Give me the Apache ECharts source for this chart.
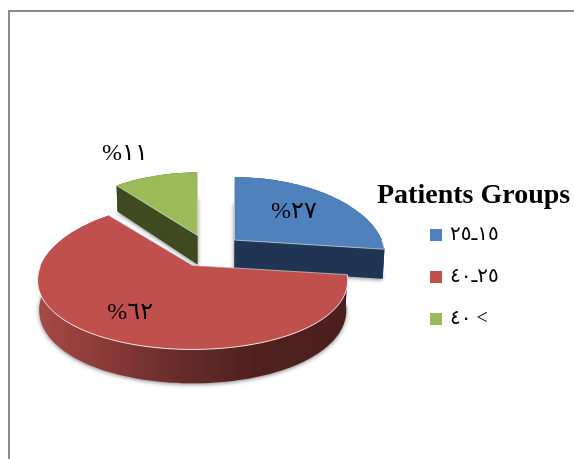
<!DOCTYPE html>
<html lang="en">
<head>
    <meta charset="UTF-8">
    <title>Patients Groups</title>
    <style>
        html, body { margin: 0; padding: 0; background: #fff; }
        #chart { width: 574px; height: 459px; }
    </style>
</head>
<body>
    <div id="chart"></div>
    <script src="https://cdn.jsdelivr.net/npm/echarts@6/dist/echarts.min.js"></script>
    <script>
    var categories = ['١٥ـ٢٥', '٢٥ـ٤٠', '٤٠ <'];
    var values = [27, 62, 11];
    var percentLabels = ['%٢٧', '%٦٢', '%١١'];

    // colours per slice
    var topColors = ['#4F81BD', '#C0504D', '#9BBB59'];
    var wallColors = ['#1F3553', '#4A1F1D', '#3F4A20'];
    // how far along the bisector the label sits (1 = rim), then a small nudge
    var labelRadius = [0.6, 0.7, 1.55];
    var labelNudge = [[-2, -1], [-4, -1], [-13, 5]];

    // fake 3d pie: circle on a tilted plane, seen with a bit of perspective
    var cx = 209, cy = 251;
    var rx = 149.3, ry = 72;
    var perspX = 0.2, perspY = 1 / 7;
    var depth = 29;
    var explodeX = 34, explodeY = 16.5;
    var explodeShrink = 0.02; // slices pushed back look a little narrower

    var total = values.reduce(function (a, b) { return a + b; }, 0);

    function plane(deg, r) {
        var a = deg * Math.PI / 180;
        var X = Math.sin(a) * r, Y = -Math.cos(a) * r;
        var f = 1 / (1 - perspY * Y);
        return { x: rx * X / (1 - perspX * Y), y: ry * Y * f, f: f };
    }

    function sliceRange(idx) {
        var start = 0;
        for (var i = 0; i < idx; i++) start += values[i] / total * 360;
        return [start, start + values[idx] / total * 360];
    }

    function renderSlice(params, api) {
        var idx = api.value(0);
        var range = sliceRange(idx);
        var mid = (range[0] + range[1]) / 2 * Math.PI / 180;
        var ax = cx + explodeX * Math.sin(mid);
        var ay = cy - explodeY * Math.cos(mid);
        var sx = 1 - explodeShrink * Math.cos(mid);

        function top(deg, r) {
            var p = plane(deg, r);
            return [ax + p.x * sx, ay + p.y];
        }
        function bottom(deg, r) {
            var p = plane(deg, r);
            return [cx + (ax + p.x * sx - cx) * 0.99, ay + p.y + depth * p.f];
        }

        var arcTop = [], arcBottom = [], seam = [];
        for (var d = range[0]; d < range[1]; d += 2) {
            arcTop.push(top(d, 1));
            arcBottom.push(bottom(d, 1));
            if (d >= 90 && d <= 270) seam.push(top(d, 1));
        }
        arcTop.push(top(range[1], 1));
        arcBottom.push(bottom(range[1], 1));

        var apexTop = top(0, 0), apexBottom = bottom(0, 0);
        var faceTop = [apexTop].concat(arcTop);
        var wallFill = wallColors[idx];
        if (idx === 1) {
            wallFill = {
                type: 'linear', x: 36, y: 0, x2: 346, y2: 0, global: true,
                colorStops: [
                    { offset: 0, color: '#A64A47' },
                    { offset: 0.22, color: '#8A3A38' },
                    { offset: 0.5, color: '#632A28' },
                    { offset: 0.72, color: '#4F201E' },
                    { offset: 1, color: '#4A1F1D' }
                ]
            };
        }

        var children = [];
        // soft shadow, from the underside only so the back rim stays clean
        children.push({
            type: 'polygon',
            shape: { points: [apexBottom].concat(arcBottom) },
            style: { fill: '#999', shadowColor: 'rgba(0,0,0,0.5)', shadowBlur: 4, shadowOffsetY: 1 }
        });
        // outer wall
        children.push({
            type: 'polygon',
            shape: { points: arcTop.concat(arcBottom.slice().reverse()) },
            style: { fill: wallFill }
        });
        // cut walls
        [0, arcTop.length - 1].forEach(function (k) {
            children.push({
                type: 'polygon',
                shape: { points: [apexTop, arcTop[k], arcBottom[k], apexBottom] },
                style: { fill: wallColors[idx] }
            });
        });
        // top face
        children.push({
            type: 'polygon',
            shape: { points: faceTop },
            style: { fill: topColors[idx] }
        });
        // light bevel on the edges
        if (seam.length > 1) {
            children.push({
                type: 'polyline',
                shape: { points: seam },
                style: { fill: null, stroke: 'rgba(255,255,255,0.85)', lineWidth: 1 }
            });
        }
        children.push({
            type: 'polyline',
            shape: { points: [arcTop[0], apexTop, arcTop[arcTop.length - 1]] },
            style: { fill: null, stroke: 'rgba(235,235,235,0.6)', lineWidth: 1 }
        });
        // percent label
        var lp = top((range[0] + range[1]) / 2, labelRadius[idx]);
        children.push({
            type: 'text',
            style: {
                x: lp[0] + labelNudge[idx][0], y: lp[1] + labelNudge[idx][1],
                text: percentLabels[idx],
                fill: '#000',
                font: '24px "Liberation Serif", "DejaVu Sans", serif',
                align: 'center', verticalAlign: 'middle'
            }
        });
        return { type: 'group', children: children };
    }

    // drawn green, blue, red so the big slice sits over the other two
    var series = [2, 0, 1].map(function (i) {
        return {
            type: 'custom',
            name: categories[i],
            coordinateSystem: 'none',
            renderItem: renderSlice,
            itemStyle: { color: topColors[i] },
            data: [[i, values[i]]],
            silent: true
        };
    });

    var chart = echarts.init(document.getElementById('chart'), null, { renderer: 'canvas' });
    chart.setOption({
        animation: false,
        backgroundColor: '#fff',
        title: {
            text: 'Patients Groups',
            left: 377, top: 182, padding: 0,
            textStyle: { color: '#000', fontFamily: '"Liberation Serif", serif', fontWeight: 'bold', fontSize: 28 }
        },
        legend: {
            data: categories,
            orient: 'vertical',
            left: 430, top: 225,
            icon: 'rect',
            itemWidth: 12, itemHeight: 12, itemGap: 22, padding: 0,
            selectedMode: false,
            textStyle: { color: '#000', fontFamily: '"Liberation Serif", "DejaVu Sans", serif', fontSize: 20, padding: [0, 0, 0, 3] }
        },
        graphic: [{
            type: 'rect',
            z: -1,
            shape: { x: 9, y: 11, width: 700, height: 600 },
            style: { fill: '#fff', stroke: '#898989', lineWidth: 2 }
        }],
        series: series
    });
    </script>
</body>
</html>
